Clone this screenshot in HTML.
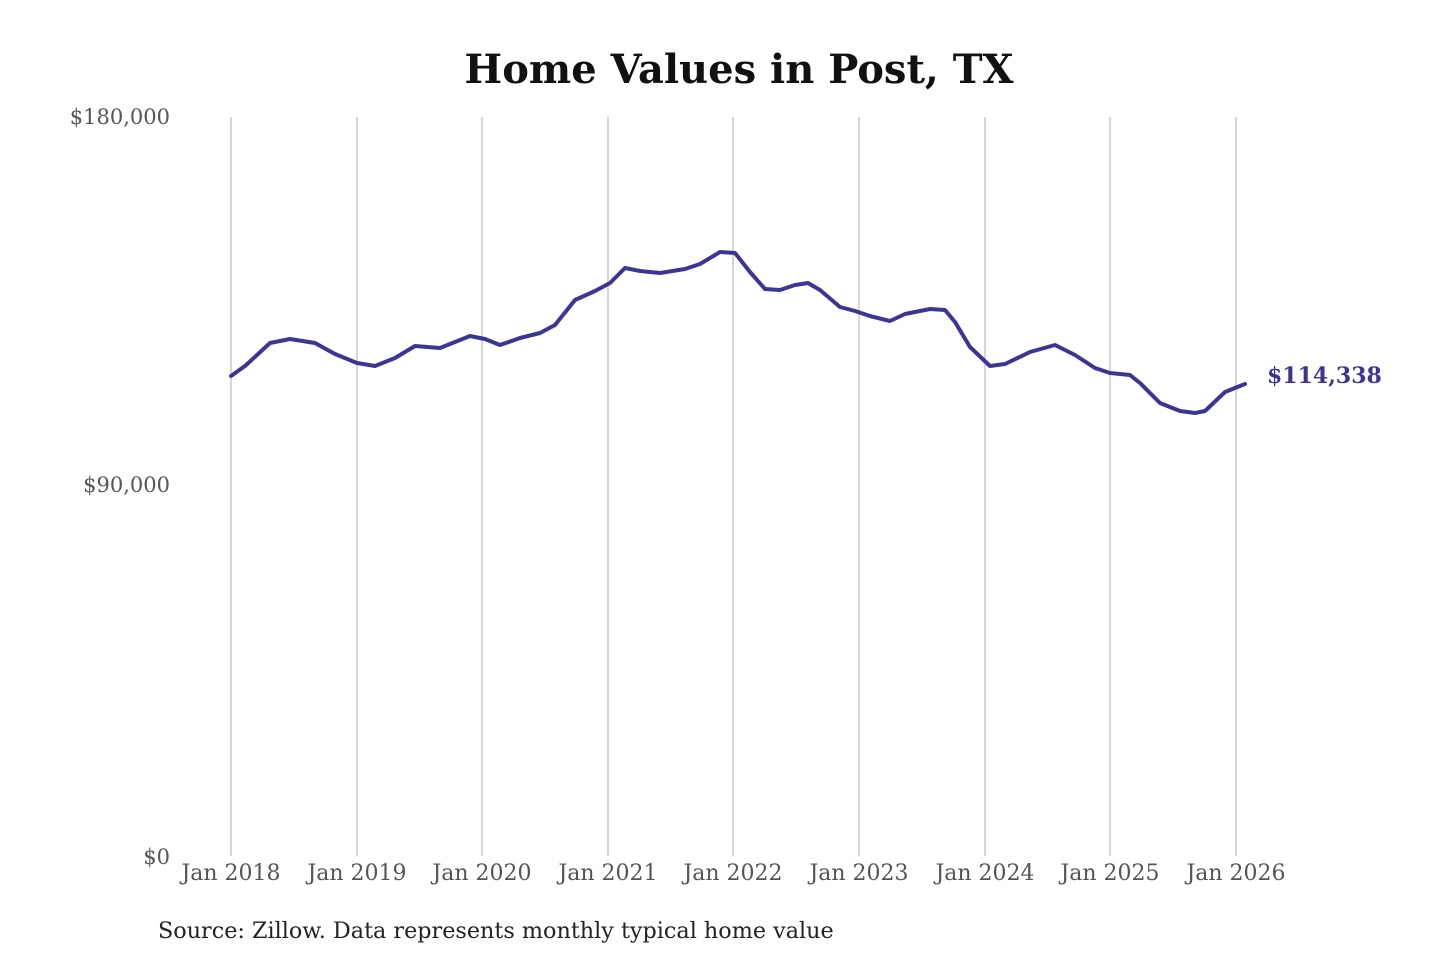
<!DOCTYPE html>
<html><head><meta charset="utf-8"><style>
html,body{margin:0;padding:0;background:#fff;}
svg{display:block;}
</style></head><body>
<svg width="1440" height="960" xmlns="http://www.w3.org/2000/svg">
<rect width="1440" height="960" fill="#fff"/>
<text x="739" y="83" text-anchor="middle" font-family="'DejaVu Serif','Liberation Serif',serif" font-weight="bold" font-size="40" fill="#111">Home Values in Post, TX</text>
<g stroke="#c8c8c8" stroke-width="1.5">
<line x1="231" y1="117" x2="231" y2="856"/>
<line x1="357" y1="117" x2="357" y2="856"/>
<line x1="482" y1="117" x2="482" y2="856"/>
<line x1="608" y1="117" x2="608" y2="856"/>
<line x1="733" y1="117" x2="733" y2="856"/>
<line x1="859" y1="117" x2="859" y2="856"/>
<line x1="985" y1="117" x2="985" y2="856"/>
<line x1="1110" y1="117" x2="1110" y2="856"/>
<line x1="1236" y1="117" x2="1236" y2="856"/>
</g>
<g font-family="'DejaVu Serif','Liberation Serif',serif" font-size="21" fill="#555" text-anchor="end">
<text x="170" y="124">$180,000</text>
<text x="170" y="492">$90,000</text>
<text x="170" y="864">$0</text>
</g>
<g font-family="'DejaVu Serif','Liberation Serif',serif" font-size="22" fill="#555" text-anchor="middle">
<text x="231" y="880">Jan 2018</text>
<text x="357" y="880">Jan 2019</text>
<text x="482" y="880">Jan 2020</text>
<text x="608" y="880">Jan 2021</text>
<text x="733" y="880">Jan 2022</text>
<text x="859" y="880">Jan 2023</text>
<text x="985" y="880">Jan 2024</text>
<text x="1110" y="880">Jan 2025</text>
<text x="1236" y="880">Jan 2026</text>
</g>
<polyline fill="none" stroke="#3b3596" stroke-width="4" stroke-linejoin="round" stroke-linecap="round" points="231,376 245,366 270,343 290,339 315,343 335,354 357,363 375,366 395,358 415,346 440,348 455,342 470,336 485,339 500,345 520,338 540,333 555,325 575,300 595,291 610,283 625,268 640,271 660,273 685,269 700,264 720,252 735,253 750,272 765,289 780,290 795,285 808,283 820,290 840,307 855,311 870,316 890,321 905,314 930,309 945,310 955,322 970,347 990,366 1005,364 1030,352 1055,345 1075,355 1095,368 1110,373 1130,375 1140,383 1160,403 1180,411 1195,413 1205,411 1225,392 1245,384"/>
<text x="1267" y="383" font-family="'DejaVu Serif','Liberation Serif',serif" font-weight="bold" font-size="22" fill="#3b3596">$114,338</text>
<text x="158" y="938" font-family="'DejaVu Serif','Liberation Serif',serif" font-size="22.3" fill="#222">Source: Zillow. Data represents monthly typical home value</text>
</svg>
</body></html>
